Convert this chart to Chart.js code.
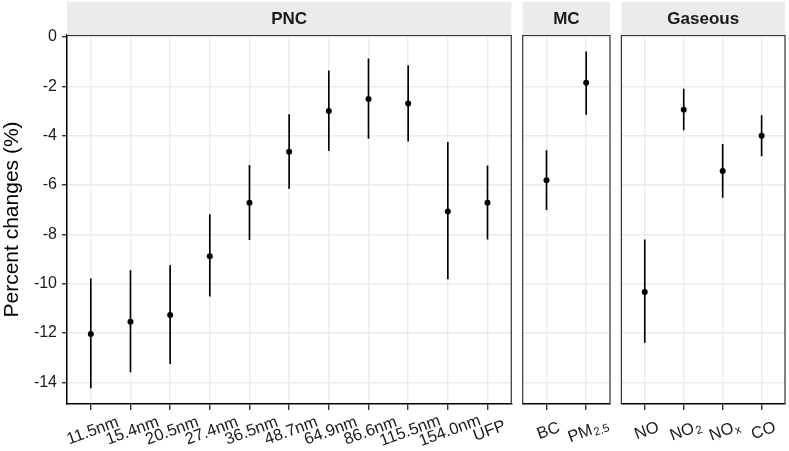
<!DOCTYPE html>
<html><head><meta charset="utf-8">
<script src="https://cdn.jsdelivr.net/npm/chart.js@4/dist/chart.umd.min.js"></script>
<style>
html,body{margin:0;padding:0;background:#fff;}
#wrap{position:relative;width:789px;height:451px;background:#fff;}
canvas{position:absolute;left:0;top:0;}
</style>
</head><body>
<div id="wrap">
<canvas id="c1" width="789" height="451"></canvas>
<canvas id="c2" width="789" height="451"></canvas>
<canvas id="c3" width="789" height="451"></canvas>
</div>
<script>
// ---- data ----
const yTicks = [0, -2, -4, -6, -8, -10, -12, -14];
const yMin = -14.88, yMax = 0.08;

const pncCats = ['11.5nm','15.4nm','20.5nm','27.4nm','36.5nm','48.7nm','64.9nm','86.6nm','115.5nm','154.0nm','UFP'];
const pncEst  = [-12.04,-11.55,-11.27,-8.89,-6.72,-4.65,-3.00,-2.51,-2.70,-7.08,-6.72];
const pncLow  = [-14.23,-13.58,-13.24,-10.51,-8.22,-6.14,-4.61,-4.11,-4.22,-9.81,-8.20];
const pncHigh = [-9.81,-9.47,-9.27,-7.20,-5.20,-3.15,-1.37,-0.89,-1.16,-4.27,-5.22];

const mcCats = ['BC','PM_2.5'];
const mcEst  = [-5.81,-1.86];
const mcLow  = [-7.00,-3.14];
const mcHigh = [-4.61,-0.60];

const gasCats = ['NO','NO_2','NO_x','CO'];
const gasEst  = [-10.34,-2.95,-5.43,-4.00];
const gasLow  = [-12.38,-3.77,-6.50,-4.82];
const gasHigh = [-8.22,-2.11,-4.35,-3.19];

// ---- drawing ----
const FONT = "'Liberation Sans', Arial, Helvetica, sans-serif";

function drawLabel(ctx, label, cx, cy) {
  const parts = label.split('_');
  const main = parts[0], sub = parts[1] || '';
  ctx.save();
  ctx.translate(cx, cy);
  ctx.rotate(-20 * Math.PI / 180);
  ctx.fillStyle = '#1a1a1a';
  ctx.textBaseline = 'middle';
  ctx.textAlign = 'left';
  ctx.font = '16.5px ' + FONT;
  const wMain = ctx.measureText(main).width;
  ctx.font = '11.5px ' + FONT;
  const wSub = sub ? ctx.measureText(sub).width + 1 : 0;
  const start = -(wMain + wSub) / 2;
  ctx.font = '16.5px ' + FONT;
  ctx.fillText(main, start, 0);
  if (sub) {
    ctx.font = '11.5px ' + FONT;
    ctx.fillText(sub, start + wMain + 1, 4);
  }
  ctx.restore();
}

function makePanel(id, title, cats, est, low, high, left, right, first) {
  const n = cats.length;
  const panelPlugin = {
    id: 'panel_' + id,
    afterDraw(chart) {
      const ctx = chart.ctx;
      const a = chart.chartArea;
      ctx.save();
      // strip
      ctx.fillStyle = '#EBEBEB';
      ctx.fillRect(a.left, 2, a.right - a.left, a.top - 2);
      ctx.fillStyle = '#1a1a1a';
      ctx.font = 'bold 17px ' + FONT;
      ctx.textAlign = 'center';
      ctx.textBaseline = 'middle';
      ctx.fillText(title, (a.left + a.right) / 2, 19);
      // panel border (top, right, left for non-first)
      ctx.strokeStyle = '#333';
      ctx.lineWidth = 1.2;
      ctx.beginPath();
      ctx.moveTo(a.left, a.top + 0.5);
      ctx.lineTo(a.right, a.top + 0.5);
      ctx.moveTo(a.right, a.top);
      ctx.lineTo(a.right, a.bottom);
      if (!first) {
        ctx.moveTo(a.left, a.top);
        ctx.lineTo(a.left, a.bottom);
      }
      ctx.stroke();
      // x tick labels
      const xs = chart.scales.x;
      cats.forEach((c, i) => {
        drawLabel(ctx, c, xs.getPixelForValue(i) + 2, 431);
      });
      ctx.restore();
    }
  };

  return new Chart(document.getElementById(id), {
    type: 'scatter',
    data: {
      datasets: [
        { type: 'scatter', data: est.map((v, i) => ({ x: i, y: v })),
          pointRadius: 3, backgroundColor: '#000', borderWidth: 0, order: 0 },
        { type: 'bar', data: low.map((v, i) => ({ x: i, y: [v, high[i]] })),
          backgroundColor: '#000', barThickness: 1, borderWidth: 0, order: 1 }
      ]
    },
    options: {
      responsive: false, animation: false, devicePixelRatio: 1, events: [],
      layout: { padding: { left: first ? 0 : left, right: 789 - right, top: 35, bottom: 0 } },
      plugins: { legend: { display: false }, tooltip: { enabled: false } },
      scales: {
        x: {
          type: 'linear', min: -0.6, max: n - 0.4, offset: false,
          afterBuildTicks: s => { s.ticks = cats.map((c, i) => ({ value: i })); },
          afterFit: s => { s.height = 47; },
          grid: { color: '#EBEBEB', lineWidth: 1.4, offset: false, drawTicks: true, tickLength: 6, tickColor: '#333' },
          border: { display: true, color: '#000', width: 1.5 },
          ticks: { display: true, autoSkip: false, maxRotation: 0, callback: () => '' }
        },
        y: {
          type: 'linear', min: yMin, max: yMax,
          afterBuildTicks: s => { s.ticks = yTicks.map(v => ({ value: v })); },
          afterFit: s => { s.width = first ? 67 : 0; },
          grid: { color: '#EBEBEB', lineWidth: 1.4, drawTicks: first, tickLength: 5, tickColor: '#333' },
          border: { display: first, color: '#000', width: 1.5 },
          ticks: { display: first, padding: 5, color: '#1a1a1a',
                   font: { size: 16, family: FONT }, callback: v => String(v) },
          title: { display: first, text: 'Percent changes (%)', color: '#000',
                   font: { size: 21, family: FONT }, padding: { top: 0, bottom: 0 } }
        }
      }
    },
    plugins: [panelPlugin]
  });
}

makePanel('c1', 'PNC', pncCats, pncEst, pncLow, pncHigh, 67, 511.3, true);
makePanel('c2', 'MC', mcCats, mcEst, mcLow, mcHigh, 522.7, 610, false);
makePanel('c3', 'Gaseous', gasCats, gasEst, gasLow, gasHigh, 621.4, 788, false);
</script>
</body></html>
